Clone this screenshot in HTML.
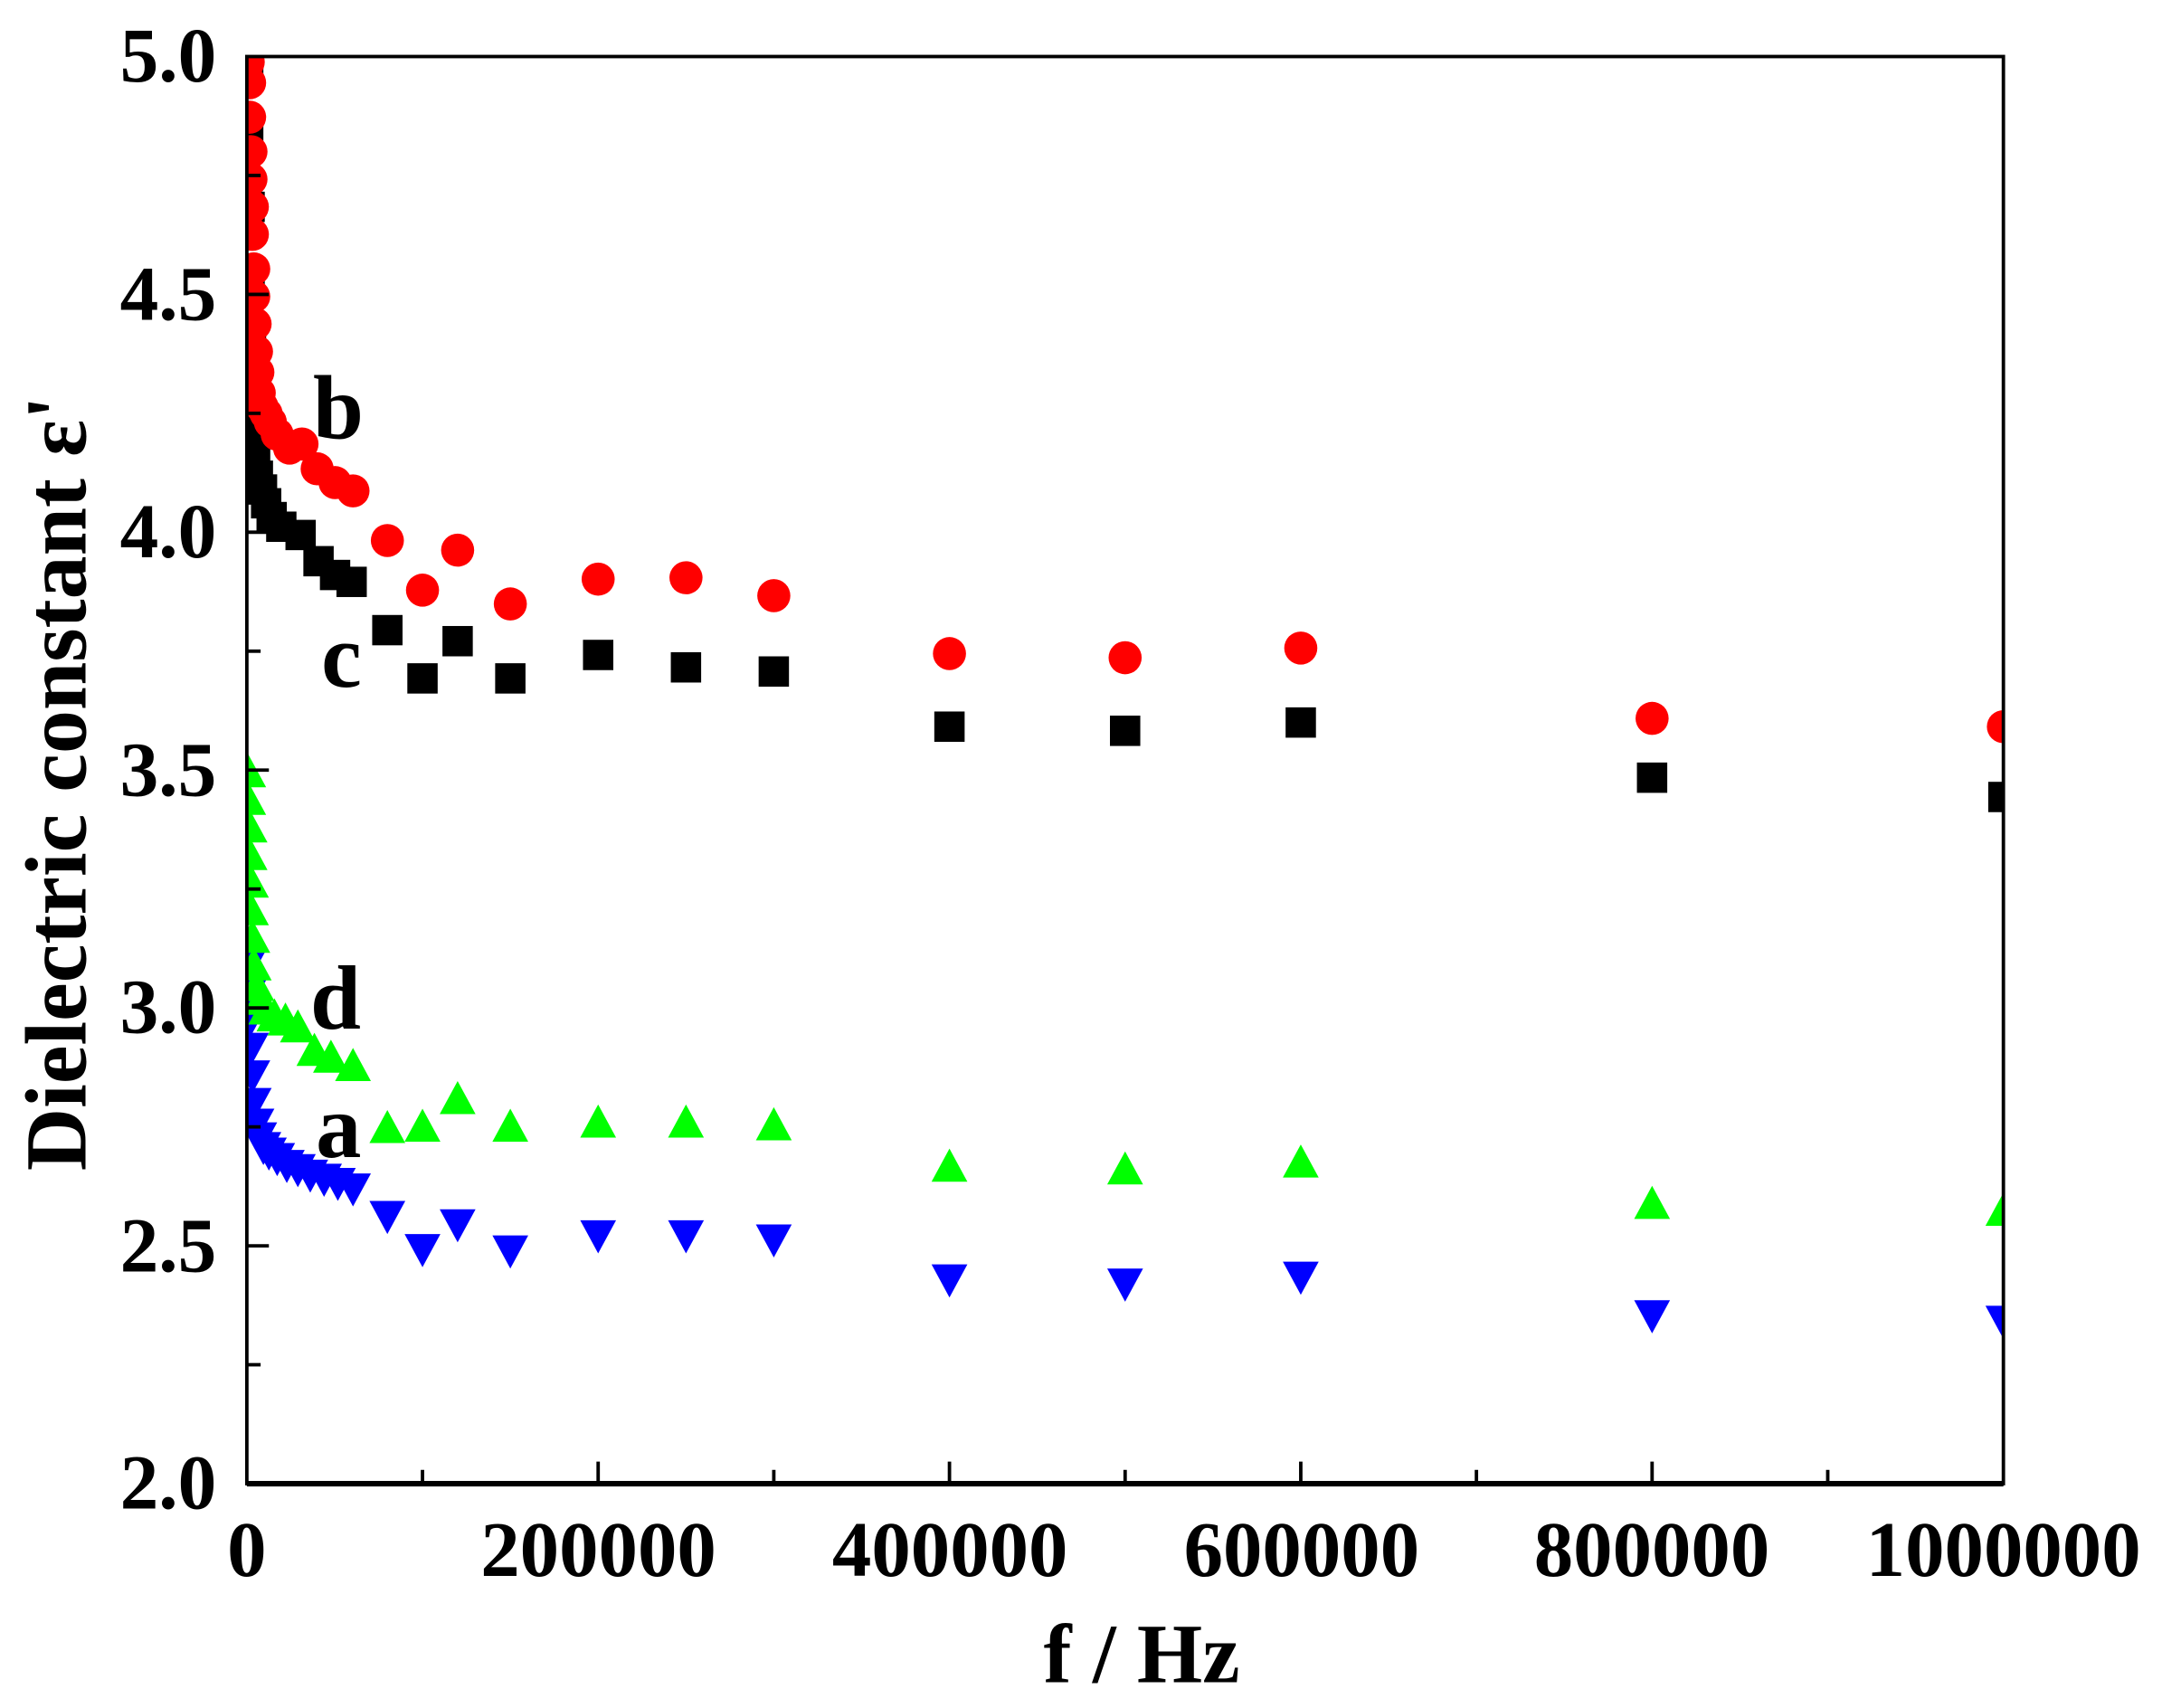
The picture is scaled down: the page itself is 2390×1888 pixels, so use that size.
<!DOCTYPE html>
<html><head><meta charset="utf-8"><style>
html,body{margin:0;padding:0;background:#fff}
svg{display:block}
text{font-family:"Liberation Serif",serif;font-weight:bold;fill:#000}
</style></head><body>
<svg id="s" width="2390" height="1888" viewBox="0 0 1568 1238.7" xmlns="http://www.w3.org/2000/svg">
<defs><clipPath id="c"><rect x="179" y="41" width="1274" height="1035"/></clipPath></defs>
<rect width="1568" height="1238.7" fill="#fff"/>
<g id="m" clip-path="url(#c)"></g>
<g stroke="#000" fill="none">
<rect x="179" y="41" width="1274" height="1035" stroke-width="2.5"/>
<line x1="179" y1="1076" x2="1453" y2="1076" stroke-width="4"/>
<g id="t" stroke-width="2.5"></g>
</g>
<g font-size="56" text-anchor="end">
<text x="157" y="59">5.0</text><text x="157" y="232">4.5</text><text x="157" y="404">4.0</text>
<text x="157" y="577">3.5</text><text x="157" y="749">3.0</text><text x="157" y="922">2.5</text><text x="157" y="1094">2.0</text>
</g>
<g font-size="57" text-anchor="middle">
<text x="179" y="1143">0</text><text x="434" y="1143">200000</text><text x="689" y="1143">400000</text>
<text x="944" y="1143">600000</text><text x="1198" y="1143">800000</text><text x="1453" y="1143">1000000</text>
</g>
<text x="828" y="1220" font-size="61" text-anchor="middle">f / Hz</text>
<text transform="translate(62,568) rotate(-90)" font-size="63" text-anchor="middle">Dielectric constant ε'</text>
<g font-size="66"><text x="227" y="318">b</text><text x="233" y="498">c</text><text x="225" y="746">d</text><text x="229" y="839">a</text></g>
</svg>
<script>
var NS="http://www.w3.org/2000/svg",m=document.getElementById('m'),t=document.getElementById('t');
function el(n,a,p){var e=document.createElementNS(NS,n);for(var k in a)e.setAttribute(k,a[k]);(p||m).appendChild(e);}
function X(f){return 179+f/1e6*1274;}
var F=[80e3,100e3,120e3,150e3,200e3,250e3,300e3,400e3,500e3,600e3,800e3,1e6];
var red=[392,428,399,438,420,419,432,474,477,470,521,527];
var blk=[457,492,465,492,475,484,487,527,530,524,564,578];
var grn=[818,817,797,817,814,814,816,846,848,843,873,878];
var blu=[882,906,888,907,896,896,899,928,931,926,954,958];
function pts(low,arr){var r=low.slice();for(var i=0;i<F.length;i++)r.push([X(F[i]),arr[i]]);return r;}
var R=pts([[180,45],[181,60],[181,85],[182,110],[182,130],[183,150],[183,170],[184,195],[184,215],[185,235],[186,255],[187,270],[188,285],[190,295],[193,300],[196,306],[201,315],[210,325],[219,322],[230,340],[243,350],[256,356]],red);
var B=pts([[180,50],[180,100],[181,150],[181,200],[182,240],[182,270],[183,290],[184,310],[185,330],[187,345],[190,355],[193,365],[197,375],[204,382],[218,388],[231,407],[243,417],[255,422]],blk);
var G=pts([[180,560],[180,580],[181,600],[181,620],[182,640],[182,660],[183,680],[184,700],[186,715],[189,725],[193,732],[199,737],[207,740],[216,745],[228,762],[240,767],[256,773]],grn);
var U=pts([[180,700],[181,720],[181,740],[182,760],[183,780],[184,800],[186,815],[188,825],[191,832],[195,836],[201,840],[208,845],[216,848],[225,852],[235,855],[245,858],[256,862]],blu);
B.forEach(function(p){el('rect',{x:p[0]-11,y:p[1]-11,width:22,height:22,fill:'#000'});});
R.forEach(function(p){el('circle',{cx:p[0],cy:p[1],r:12,fill:'#f00'});});
U.forEach(function(p){el('polygon',{points:(p[0]-13)+','+(p[1]-11)+' '+(p[0]+13)+','+(p[1]-11)+' '+p[0]+','+(p[1]+13),fill:'#00f'});});
G.forEach(function(p){el('polygon',{points:(p[0]-13)+','+(p[1]+11)+' '+(p[0]+13)+','+(p[1]+11)+' '+p[0]+','+(p[1]-13),fill:'#0f0'});});
for(var i=1;i<10;i++){var x=179+i*127.4,L=(i%2==0)?16:10;el('line',{x1:x,y1:1076,x2:x,y2:1076-L},t);}
for(var j=1;j<12;j++){var y=41+j*86.25,L2=(j%2==0)?16:10;el('line',{x1:179,y1:y,x2:179+L2,y2:y},t);}
</script>
</body></html>
